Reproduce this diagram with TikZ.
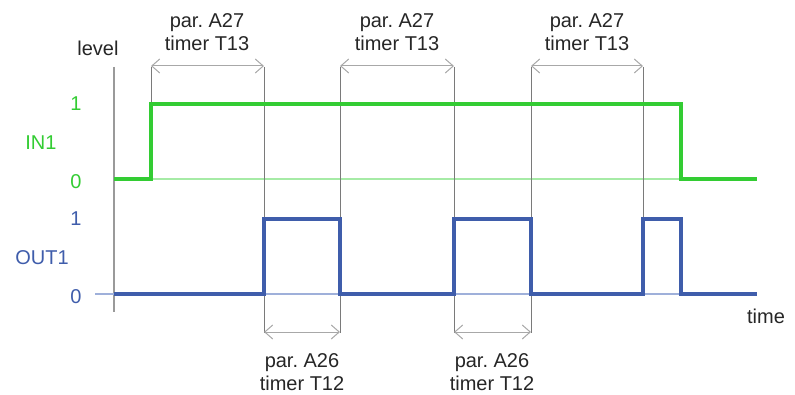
\documentclass[tikz,border=0pt]{standalone}
\usepackage{fontspec}
\setmainfont{Liberation Sans}
\usetikzlibrary{arrows.meta}
\frenchspacing
\definecolor{ingreen}{HTML}{33CC33}
\definecolor{inlight}{HTML}{A6EBA6}
\definecolor{outblue}{HTML}{3F5DAB}
\definecolor{outlight}{HTML}{9FB0DA}
\definecolor{axisgray}{HTML}{9A9A9A}
\definecolor{vgray}{HTML}{7A7A7A}
\definecolor{arrgray}{HTML}{A8A8A8}
\definecolor{txtgray}{HTML}{262626}
\tikzset{
  sig/.style={line width=3.6pt, line join=miter},
  base/.style={line width=1.1pt},
  vline/.style={vgray, line width=0.9pt},
  dim/.style={arrgray, line width=1pt, {Straight Barb[length=8pt,width=14pt,line width=1pt]}-{Straight Barb[length=8pt,width=14pt,line width=1pt]}},
  lab/.style={font=\fontsize{20}{23}\selectfont, text=txtgray, align=center, inner sep=0pt},
  lvl/.style={font=\fontsize{20}{23}\selectfont, inner sep=0pt},
}
\begin{document}
\begin{tikzpicture}[x=1pt,y=-1pt]
\useasboundingbox (0,0) rectangle (795,395);
% axis
\coordinate (axtop) at (114,67);
\coordinate (axbot) at (114,312);
\draw[axisgray, line width=1.1pt] (axtop) -- (axbot);
% baselines
\coordinate (inb0) at (114,179);
\coordinate (inb1) at (757,179);
\draw[base, inlight] (inb0) -- (inb1);
\coordinate (outb0) at (95,294);
\coordinate (outb1) at (757,294);
\draw[base, outlight] (outb0) -- (outb1);
% vertical guide lines
\draw[vline] (151,67) -- (151,104);
\draw[vline] (264,67) -- (264,333);
\draw[vline] (340,67) -- (340,333);
\draw[vline] (454,67) -- (454,333);
\draw[vline] (531,67) -- (531,333);
\draw[vline] (643,67) -- (643,219);
% IN1 signal
\draw[sig, ingreen] (114,179) -- (151,179) -- (151,104) -- (681,104) -- (681,179) -- (757,179);
% OUT1 signal
\draw[sig, outblue] (114,294) -- (264,294) -- (264,219) -- (340,219) -- (340,294) -- (454,294) -- (454,219) -- (531,219) -- (531,294) -- (643,294) -- (643,219) -- (681,219) -- (681,294) -- (757,294);
% dimension arrows
\coordinate (a1l) at (151,66); \coordinate (a1r) at (264,66);
\coordinate (a2l) at (340,66); \coordinate (a2r) at (454,66);
\coordinate (a3l) at (531,66); \coordinate (a3r) at (643,66);
\coordinate (b1l) at (264,332); \coordinate (b1r) at (340,332);
\coordinate (b2l) at (454,332); \coordinate (b2r) at (531,332);
\draw[dim] (a1l) -- (a1r);
\draw[dim] (a2l) -- (a2r);
\draw[dim] (a3l) -- (a3r);
\draw[dim] (b1l) -- (b1r);
\draw[dim] (b2l) -- (b2r);
% labels
\node[lab] (l1) at (207,32) {par. A27\\timer T13};
\node[lab] (l2) at (397,32) {par. A27\\timer T13};
\node[lab] (l3) at (587,32) {par. A27\\timer T13};
\node[lab] (l4) at (302,372) {par. A26\\timer T12};
\node[lab] (l5) at (492,372) {par. A26\\timer T12};
\node[lab] (lv) at (98,48) {level};
\node[lab] (tm) at (766,316) {time};
\node[lvl, text=ingreen] (in1) at (41,143) {IN1};
\node[lvl, text=ingreen] (ione) at (76,104) {1};
\node[lvl, text=ingreen] (izero) at (76,182) {0};
\node[lvl, text=outblue] (out1) at (42,258) {OUT1};
\node[lvl, text=outblue] (oone) at (76,219) {1};
\node[lvl, text=outblue] (ozero) at (76,297) {0};
\end{tikzpicture}
\end{document}
